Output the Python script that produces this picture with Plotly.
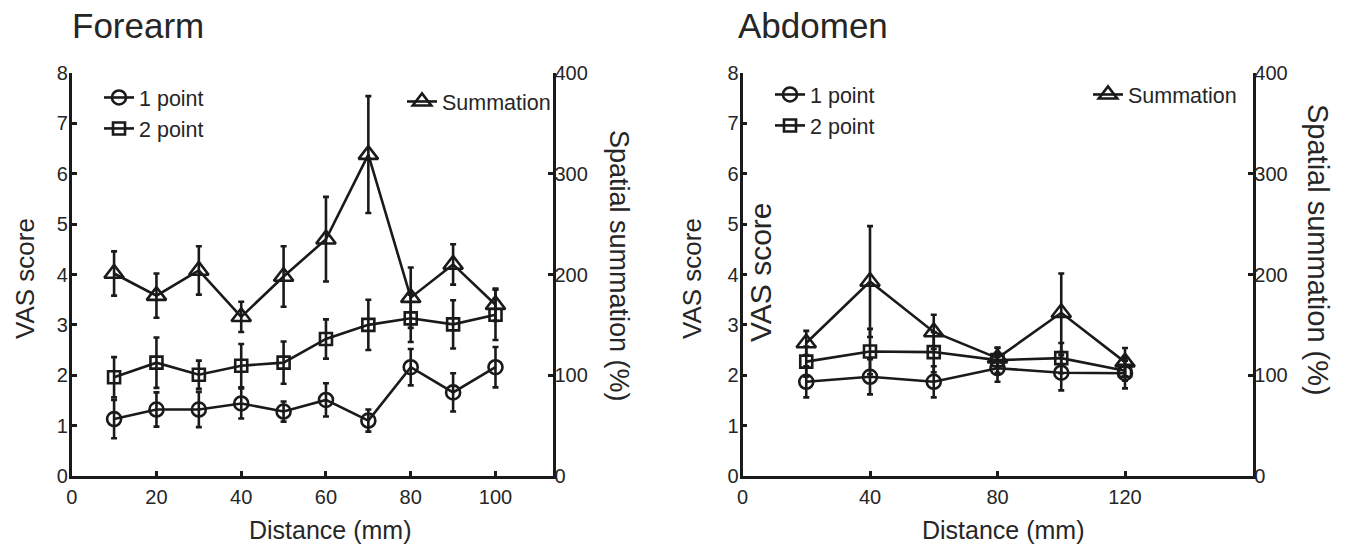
import plotly.graph_objects as go

# ---------------- data ----------------
fore_x = [10, 20, 30, 40, 50, 60, 70, 80, 90, 100]
fore_1pt = [1.13, 1.32, 1.32, 1.44, 1.28, 1.51, 1.10, 2.16, 1.66, 2.16]
fore_1pt_err = [0.38, 0.34, 0.35, 0.30, 0.20, 0.33, 0.22, 0.36, 0.38, 0.40]
fore_2pt = [1.96, 2.25, 2.01, 2.19, 2.25, 2.72, 3.00, 3.13, 3.01, 3.20]
fore_2pt_err = [0.40, 0.50, 0.28, 0.43, 0.42, 0.39, 0.50, 0.47, 0.48, 0.50]
fore_sum = [201, 179, 204, 158, 198, 235, 319, 177, 210, 170]
fore_sum_err = [22, 22, 24, 15, 30, 42, 58, 30, 20, 16]

abd_x = [20, 40, 60, 80, 100, 120]
abd_1pt = [1.87, 1.97, 1.87, 2.14, 2.05, 2.04]
abd_1pt_err = [0.31, 0.35, 0.31, 0.27, 0.35, 0.30]
abd_2pt = [2.27, 2.47, 2.46, 2.30, 2.34, 2.09]
abd_2pt_err = [0.30, 0.45, 0.40, 0.25, 0.30, 0.20]
abd_sum = [132, 193, 143, 117, 162, 113]
abd_sum_err = [12, 55, 17, 10, 39, 14]

vas_ticks = [0, 1, 2, 3, 4, 5, 6, 7, 8]
pct_ticks = [0, 100, 200, 300, 400]
fore_xticks = [0, 20, 40, 60, 80, 100]
abd_xticks = [0, 40, 80, 120]

# ---------------- style ----------------
W, H = 1353, 553
INK = "#1a1a1a"
TXT = "#262626"
FONT = "Liberation Sans, Arial, sans-serif"
LW = 2.6


def px_x(p):
    return p / W


def px_y(p):
    return 1 - p / H


def trace(x, y, err, name, symbol, size, xa, ya, legend):
    return go.Scatter(
        x=x, y=y, name=name, mode="lines+markers",
        xaxis=xa, yaxis=ya, legend=legend,
        line=dict(color=INK, width=LW),
        marker=dict(symbol=symbol, size=size, color=INK,
                    line=dict(color=INK, width=LW)),
        error_y=dict(type="data", array=err, visible=True,
                     color=INK, thickness=LW, width=3),
        cliponaxis=False,
    )


fig = go.Figure()
# Forearm
fig.add_trace(trace(fore_x, fore_1pt, fore_1pt_err, "1 point", "circle-open", 14, "x", "y", "legend"))
fig.add_trace(trace(fore_x, fore_2pt, fore_2pt_err, "2 point", "square-open", 12, "x", "y", "legend"))
fig.add_trace(trace(fore_x, fore_sum, fore_sum_err, "Summation", "triangle-up-open", 17, "x", "y2", "legend2"))
# Abdomen
fig.add_trace(trace(abd_x, abd_1pt, abd_1pt_err, "1 point", "circle-open", 14, "x2", "y3", "legend3"))
fig.add_trace(trace(abd_x, abd_2pt, abd_2pt_err, "2 point", "square-open", 12, "x2", "y3", "legend3"))
fig.add_trace(trace(abd_x, abd_sum, abd_sum_err, "Summation", "triangle-up-open", 17, "x2", "y4", "legend4"))

ydom = [px_y(476), px_y(73)]
xdom1 = [px_x(71.7), px_x(552.7)]
xdom2 = [px_x(742.5), px_x(1252.5)]

axis_common = dict(
    showline=True, linecolor=INK, linewidth=LW, showgrid=False, zeroline=False,
    ticks="inside", ticklen=5, tickwidth=LW, tickcolor=INK, automargin=False,
    tickfont=dict(family=FONT, size=20, color=TXT),
)

legend_common = dict(
    bgcolor="rgba(0,0,0,0)", borderwidth=0,
    font=dict(family=FONT, size=21.5, color=TXT),
    xanchor="left", yanchor="top", tracegroupgap=0, itemwidth=30,
)

fig.update_layout(
    width=W, height=H,
    margin=dict(l=0, r=0, t=0, b=0, autoexpand=False),
    paper_bgcolor="white", plot_bgcolor="white",
    font=dict(family=FONT, color=TXT),
    showlegend=True,
    xaxis=dict(domain=xdom1, range=[0, 113.5], tickvals=fore_xticks,
               anchor="y", ticklabelstandoff=1, **axis_common),
    yaxis=dict(domain=ydom, range=[0, 8], tickvals=vas_ticks,
               anchor="x", ticklabelstandoff=-3, **axis_common),
    yaxis2=dict(range=[0, 400], tickvals=pct_ticks, overlaying="y",
                side="right", anchor="x", ticklabelstandoff=-5, **axis_common),
    xaxis2=dict(domain=xdom2, range=[0, 160], tickvals=abd_xticks,
                anchor="y3", ticklabelstandoff=1, **axis_common),
    yaxis3=dict(domain=ydom, range=[0, 8], tickvals=vas_ticks,
                anchor="x2", ticklabelstandoff=-3, **axis_common),
    yaxis4=dict(range=[0, 400], tickvals=pct_ticks, overlaying="y3",
                side="right", anchor="x2", ticklabelstandoff=-5, **axis_common),
    legend=dict(x=px_x(99), y=px_y(77), **legend_common),
    legend2=dict(x=px_x(402), y=px_y(81), **legend_common),
    legend3=dict(x=px_x(770), y=px_y(74), **legend_common),
    legend4=dict(x=px_x(1088), y=px_y(74), **legend_common),
)

ann_font = dict(family=FONT, color=TXT)
annotations = [
    dict(text="Forearm", x=px_x(70), y=px_y(26), xanchor="left", yanchor="middle",
         font=dict(size=35, **ann_font)),
    dict(text="Abdomen", x=px_x(736), y=px_y(26), xanchor="left", yanchor="middle",
         font=dict(size=35, **ann_font)),
    dict(text="Distance (mm)", x=px_x(330), y=px_y(530), xanchor="center", yanchor="middle",
         font=dict(size=25, **ann_font)),
    dict(text="Distance (mm)", x=px_x(1003), y=px_y(530), xanchor="center", yanchor="middle",
         font=dict(size=25, **ann_font)),
    dict(text="VAS score", x=px_x(25), y=px_y(279), textangle=-90, xanchor="center", yanchor="middle",
         font=dict(size=26, **ann_font)),
    dict(text="VAS score", x=px_x(692), y=px_y(279), textangle=-90, xanchor="center", yanchor="middle",
         font=dict(size=26, **ann_font)),
    dict(text="VAS score", x=px_x(761), y=px_y(272), textangle=-90, xanchor="center", yanchor="middle",
         font=dict(size=30, **ann_font)),
    dict(text="Spatial summation (%)", x=px_x(619), y=px_y(266), textangle=90, xanchor="center", yanchor="middle",
         font=dict(size=27, **ann_font)),
    dict(text="Spatial summation (%)", x=px_x(1318), y=px_y(250), textangle=90, xanchor="center", yanchor="middle",
         font=dict(size=29, **ann_font)),
]
for a in annotations:
    a.update(xref="paper", yref="paper", showarrow=False)
fig.update_layout(annotations=annotations)

fig.write_html("out.html")
